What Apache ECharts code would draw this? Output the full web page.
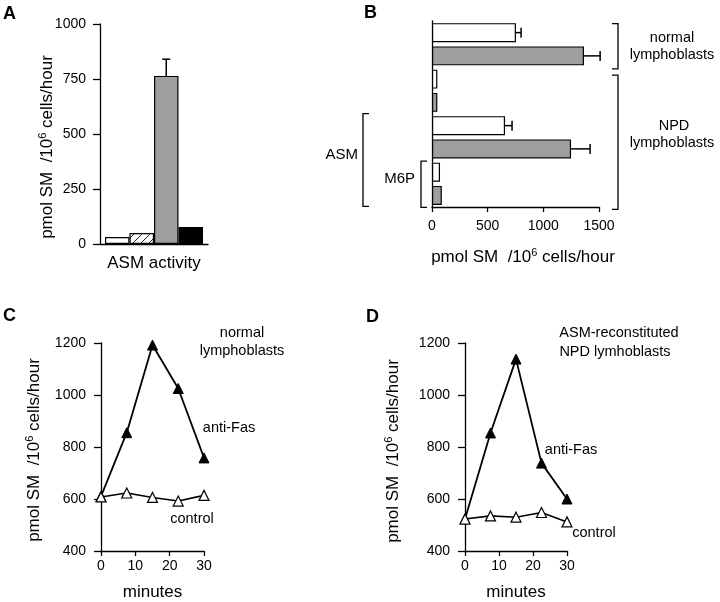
<!DOCTYPE html>
<html><head><meta charset="utf-8">
<script src="https://cdn.jsdelivr.net/npm/echarts/dist/echarts.min.js"></script>
<style>html,body{margin:0;padding:0;background:#fff}#c{width:720px;height:602px}</style>
</head><body><div id="c"></div>
<script>
// ---------- data ----------
const aCategory = ['ASM activity'];
const aSeriesNames = ['open', 'hatched', 'stippled', 'solid'];
const aValues = [32, 50, 764, 77];
const aErrorTop = [null, null, 840, null];

const bCategories = ['normal', 'normal anti-Fas', 'NPD', 'NPD anti-Fas', 'NPD+ASM', 'NPD+ASM anti-Fas', 'NPD+ASM+M6P', 'NPD+ASM+M6P anti-Fas'];
const bValues = [754, 1365, 48, 48, 656, 1249, 72, 88];
const bErrorEnd = [800, 1510, null, null, 719, 1420, null, null];
const bTreated = [false, true, false, true, false, true, false, true];

const minutes = [0, 7.5, 15, 22.5, 30];
const cAntiFas = [610, 855, 1192, 1025, 758];
const cControl = [608, 623, 606, 592, 614];
const dAntiFas = [523, 854, 1138, 738, 600];
const dControl = [523, 535, 530, 548, 512];

// ---------- style ----------
const FF = '"Liberation Sans", Arial, Helvetica, sans-serif';
const GRAY = '#9e9e9e';
const axLine = {show: true, lineStyle: {color: '#000', width: 1.3}};
const plain = (v) => String(v);
const lbl = (m) => ({color: '#000', fontSize: 14, fontFamily: FF, margin: m, formatter: plain});
const tick = (len) => ({show: true, length: len, lineStyle: {color: '#000', width: 1.3}});

function hatchCanvas() {
  const c = document.createElement('canvas');
  c.width = 8; c.height = 8;
  const g = c.getContext('2d');
  g.fillStyle = '#fff'; g.fillRect(0, 0, 8, 8);
  g.strokeStyle = '#222'; g.lineWidth = 1;
  g.beginPath(); g.moveTo(-1, 9); g.lineTo(9, -1); g.stroke();
  return c;
}
const fills = ['#fff', {image: hatchCanvas(), repeat: 'repeat'}, GRAY, '#000'];

const chart = echarts.init(document.getElementById('c'), null, {renderer: 'canvas'});

const aBarW = 24.5;
const aSeries = aValues.map((v, i) => ({
  type: 'bar', name: aSeriesNames[i], xAxisIndex: 0, yAxisIndex: 0,
  data: [v], barWidth: aBarW, barGap: '0%',
  itemStyle: {color: fills[i], borderColor: '#000', borderWidth: 1.2}
}));

const aErrData = [];
aErrorTop.forEach((e, i) => { if (e != null) aErrData.push([0, aValues[i], e, i]); });

const bErrData = [];
bErrorEnd.forEach((e, i) => { if (e != null) bErrData.push([bValues[i], e, i]); });

function errLineStyle() { return {stroke: '#000', lineWidth: 1.5, fill: null}; }

const option = {
  animation: false,
  backgroundColor: '#fff',
  textStyle: {fontFamily: FF, color: '#000'},
  grid: [
    {left: 100, top: 24, width: 108, height: 220},
    {left: 432, top: 21, width: 167, height: 186},
    {left: 101, top: 343, width: 103, height: 208},
    {left: 465, top: 343, width: 102, height: 208}
  ],
  xAxis: [
    {gridIndex: 0, type: 'category', data: aCategory, axisLine: axLine, axisTick: {show: false},
     axisLabel: {color: '#000', fontSize: 17, fontFamily: FF, margin: 11}},
    {gridIndex: 1, type: 'value', min: 0, max: 1500, interval: 500, axisLine: axLine, axisTick: tick(5),
     axisLabel: lbl(12), splitLine: {show: false}},
    {gridIndex: 2, type: 'value', min: 0, max: 30, interval: 10, axisLine: axLine, axisTick: tick(5),
     axisLabel: lbl(8), splitLine: {show: false},
     name: 'minutes', nameLocation: 'middle', nameGap: 33, nameTextStyle: {color: '#000', fontSize: 17, fontFamily: FF}},
    {gridIndex: 3, type: 'value', min: 0, max: 30, interval: 10, axisLine: axLine, axisTick: tick(5),
     axisLabel: lbl(8), splitLine: {show: false},
     name: 'minutes', nameLocation: 'middle', nameGap: 33, nameTextStyle: {color: '#000', fontSize: 17, fontFamily: FF}}
  ],
  yAxis: [
    {gridIndex: 0, type: 'value', min: 0, max: 1000, interval: 250, axisLine: axLine, axisTick: tick(7),
     axisLabel: lbl(14), splitLine: {show: false}},
    {gridIndex: 1, type: 'category', inverse: true, data: bCategories, axisLine: axLine,
     axisTick: {show: false}, axisLabel: {show: false}},
    {gridIndex: 2, type: 'value', min: 400, max: 1200, interval: 200, axisLine: axLine, axisTick: tick(7),
     axisLabel: lbl(15), splitLine: {show: false}},
    {gridIndex: 3, type: 'value', min: 400, max: 1200, interval: 200, axisLine: axLine, axisTick: tick(7),
     axisLabel: lbl(15), splitLine: {show: false}}
  ],
  series: [
    ...aSeries,
    {type: 'custom', xAxisIndex: 0, yAxisIndex: 0, data: aErrData, z: 5,
     renderItem: function (params, api) {
       const idx = api.value(3);
       const base = api.coord([api.value(0), api.value(1)]);
       const top = api.coord([api.value(0), api.value(2)]);
       const x = base[0] + (idx - 1.5) * aBarW;
       return {type: 'group', children: [
         {type: 'line', shape: {x1: x, y1: base[1], x2: x, y2: top[1]}, style: errLineStyle()},
         {type: 'line', shape: {x1: x - 4, y1: top[1], x2: x + 4, y2: top[1]}, style: errLineStyle()}
       ]};
     }},
    {type: 'bar', xAxisIndex: 1, yAxisIndex: 1, barWidth: 19,
     data: bValues.map((v, i) => ({value: v, itemStyle: {color: bTreated[i] ? GRAY : '#fff', borderColor: '#000', borderWidth: 1.2}}))},
    {type: 'custom', xAxisIndex: 1, yAxisIndex: 1, data: bErrData, encode: {x: [0, 1], y: 2}, z: 5,
     renderItem: function (params, api) {
       const a = api.coord([api.value(0), api.value(2)]);
       const b = api.coord([api.value(1), api.value(2)]);
       return {type: 'group', children: [
         {type: 'line', shape: {x1: a[0], y1: a[1], x2: b[0], y2: b[1]}, style: errLineStyle()},
         {type: 'line', shape: {x1: b[0], y1: b[1] - 5, x2: b[0], y2: b[1] + 5}, style: errLineStyle()}
       ]};
     }},
    {type: 'line', xAxisIndex: 2, yAxisIndex: 2, data: minutes.map((m, i) => [m, cAntiFas[i]]),
     symbol: 'triangle', symbolSize: 10, lineStyle: {color: '#000', width: 1.8},
     itemStyle: {color: '#000', borderColor: '#000', borderWidth: 1}},
    {type: 'line', xAxisIndex: 2, yAxisIndex: 2, data: minutes.map((m, i) => [m, cControl[i]]),
     symbol: 'triangle', symbolSize: 10, lineStyle: {color: '#000', width: 1.6}, z: 3,
     itemStyle: {color: '#fff', borderColor: '#000', borderWidth: 1.2}},
    {type: 'line', xAxisIndex: 3, yAxisIndex: 3, data: minutes.map((m, i) => [m, dAntiFas[i]]),
     symbol: 'triangle', symbolSize: 10, lineStyle: {color: '#000', width: 1.8},
     itemStyle: {color: '#000', borderColor: '#000', borderWidth: 1}},
    {type: 'line', xAxisIndex: 3, yAxisIndex: 3, data: minutes.map((m, i) => [m, dControl[i]]),
     symbol: 'triangle', symbolSize: 10, lineStyle: {color: '#000', width: 1.6}, z: 3,
     itemStyle: {color: '#fff', borderColor: '#000', borderWidth: 1.2}}
  ]
};
chart.setOption(option);

// ---------- annotations ----------
function txt(t, x, y, opts) {
  opts = opts || {};
  return {type: 'text', x: x, y: y, rotation: opts.rotation || 0, z: 10,
    style: {text: t, fill: '#000', fontSize: opts.size || 14, fontFamily: FF,
      fontWeight: opts.bold ? 'bold' : 'normal',
      align: opts.align || 'center', verticalAlign: 'middle',
      textAlign: opts.align || 'center', textVerticalAlign: 'middle', rich: opts.rich}};
}
const unitRich = {
  n: {fontSize: 17, fontFamily: FF, fill: '#000', color: '#000', lineHeight: 20},
  s: {fontSize: 11, fontFamily: FF, fill: '#000', color: '#000', verticalAlign: 'top', lineHeight: 20}
};
const unitText = '{n|pmol SM  /10}{s|6}{n| cells/hour}';

function bPix(val, cat) { return chart.convertToPixel({xAxisIndex: 1, yAxisIndex: 1}, [val, cat]); }
function bracket(x, y1, y2, dx) {
  return {type: 'polyline', z: 10, shape: {points: [[x + dx, y1], [x, y1], [x, y2], [x + dx, y2]]},
    style: {stroke: '#000', lineWidth: 1.3, fill: null}};
}
const xEnd = bPix(1500, 0)[0];
const x0 = bPix(0, 0)[0];
const cy = (i) => bPix(0, i)[1];

const graphics = [
  txt('A', 3, 14, {size: 18, bold: true, align: 'left'}),
  txt('B', 364, 13, {size: 18, bold: true, align: 'left'}),
  txt('C', 3, 316, {size: 18, bold: true, align: 'left'}),
  txt('D', 366, 317, {size: 18, bold: true, align: 'left'}),
  txt(unitText, 47, 147, {rotation: Math.PI / 2, rich: unitRich}),
  txt(unitText, 523, 257, {rich: unitRich}),
  txt(unitText, 34, 450, {rotation: Math.PI / 2, rich: unitRich}),
  txt(unitText, 393, 451, {rotation: Math.PI / 2, rich: unitRich}),
  // panel B brackets
  bracket(xEnd + 19, cy(0) - 9, cy(1) + 13, -6),
  bracket(xEnd + 19, cy(2) - 4, cy(7) + 14, -6),
  bracket(x0 - 69, cy(4) - 12, cy(7) + 11, 6),
  bracket(x0 - 11, cy(6) - 11, cy(7) + 12, 6),
  txt('normal', 672, 38, {size: 14.5}),
  txt('lymphoblasts', 672, 55, {size: 14.5}),
  txt('NPD', 674, 126, {size: 14.5}),
  txt('lymphoblasts', 672, 143, {size: 14.5}),
  txt('ASM', 358, 155, {size: 15, align: 'right'}),
  txt('M6P', 415, 179, {size: 15, align: 'right'}),
  // panel C
  txt('normal', 242, 333, {size: 14.5}),
  txt('lymphoblasts', 242, 351, {size: 14.5}),
  txt('anti-Fas', 229, 428, {size: 14.5}),
  txt('control', 192, 519, {size: 14.5}),
  // panel D
  txt('ASM-reconstituted', 619, 333, {size: 14.5}),
  txt('NPD lymhoblasts', 615, 352, {size: 14.5}),
  txt('anti-Fas', 571, 450, {size: 14.5}),
  txt('control', 594, 533, {size: 14.5})
];
chart.setOption({graphic: graphics});
</script>
</body></html>
